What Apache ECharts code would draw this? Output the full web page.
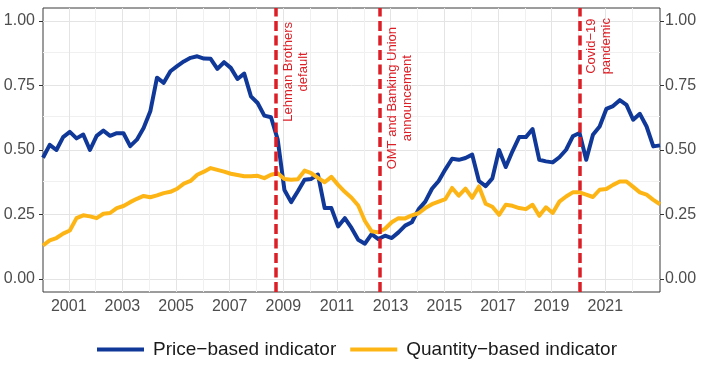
<!DOCTYPE html>
<html><head><meta charset="utf-8">
<script src="https://cdn.jsdelivr.net/npm/echarts@6/dist/echarts.min.js"></script>
<style>html,body{margin:0;padding:0;background:#fff}#c{width:705px;height:365px}</style>
</head><body><div id="c"></div>
<script>
const quarters = ['2000Q1','2000Q2','2000Q3','2000Q4','2001Q1','2001Q2','2001Q3','2001Q4','2002Q1','2002Q2','2002Q3','2002Q4',
'2003Q1','2003Q2','2003Q3','2003Q4','2004Q1','2004Q2','2004Q3','2004Q4','2005Q1','2005Q2','2005Q3','2005Q4',
'2006Q1','2006Q2','2006Q3','2006Q4','2007Q1','2007Q2','2007Q3','2007Q4','2008Q1','2008Q2','2008Q3','2008Q4',
'2009Q1','2009Q2','2009Q3','2009Q4','2010Q1','2010Q2','2010Q3','2010Q4','2011Q1','2011Q2','2011Q3','2011Q4',
'2012Q1','2012Q2','2012Q3','2012Q4','2013Q1','2013Q2','2013Q3','2013Q4','2014Q1','2014Q2','2014Q3','2014Q4',
'2015Q1','2015Q2','2015Q3','2015Q4','2016Q1','2016Q2','2016Q3','2016Q4','2017Q1','2017Q2','2017Q3','2017Q4',
'2018Q1','2018Q2','2018Q3','2018Q4','2019Q1','2019Q2','2019Q3','2019Q4','2020Q1','2020Q2','2020Q3','2020Q4',
'2021Q1','2021Q2','2021Q3','2021Q4','2022Q1','2022Q2','2022Q3','2022Q4','2023Q1'];

const priceBased = [0.47,0.52,0.50,0.55,0.57,0.545,0.56,0.50,0.555,0.575,0.555,0.565,0.565,0.515,0.54,0.585,
0.65,0.78,0.76,0.805,0.825,0.843,0.857,0.863,0.854,0.853,0.814,0.84,0.818,0.775,0.796,0.708,
0.682,0.633,0.627,0.54,0.345,0.298,0.34,0.385,0.388,0.405,0.275,0.275,0.204,0.236,0.198,0.152,
0.137,0.174,0.155,0.168,0.159,0.181,0.207,0.22,0.27,0.30,0.35,0.38,0.425,0.466,0.462,0.469,
0.482,0.38,0.36,0.39,0.50,0.434,0.495,0.55,0.55,0.581,0.462,0.456,0.452,0.472,0.501,0.553,
0.566,0.462,0.559,0.591,0.659,0.67,0.693,0.675,0.617,0.64,0.591,0.514,0.518];

const quantityBased = [0.13,0.15,0.159,0.176,0.188,0.236,0.247,0.243,0.236,0.253,0.256,0.275,0.283,0.298,0.311,0.322,
0.317,0.324,0.333,0.338,0.35,0.37,0.38,0.404,0.416,0.43,0.423,0.416,0.408,0.403,0.398,0.398,
0.40,0.391,0.404,0.41,0.388,0.385,0.387,0.42,0.41,0.392,0.375,0.396,0.365,0.338,0.315,0.285,
0.225,0.185,0.181,0.195,0.22,0.236,0.235,0.247,0.255,0.275,0.29,0.30,0.31,0.353,0.323,0.35,
0.315,0.359,0.292,0.28,0.249,0.288,0.284,0.275,0.271,0.288,0.245,0.278,0.256,0.30,0.32,0.336,
0.336,0.327,0.318,0.346,0.349,0.365,0.378,0.378,0.357,0.336,0.327,0.307,0.29];

const xTickLabels = [2001,2003,2005,2007,2009,2011,2013,2015,2017,2019,2021];
const xMinorGrid = [2002,2004,2006,2008,2010,2012,2014,2016,2018,2020,2022];
const yTickLabels = [0,0.25,0.5,0.75,1.0];
const yMinorGrid = [0.125,0.375,0.625,0.875];

const eventLabels = ['Lehman Brothers\ndefault','OMT and Banking Union\nannouncement','Covid\u221219\npandemic'];
const eventDates = [2008.73, 2012.61, 2020.03];
const eventLabelInset = [14, 19, 10];

const seriesNames = ['Price\u2212based indicator','Quantity\u2212based indicator'];

function qToX(q){ const y = +q.slice(0,4), k = +q.slice(5); return y + (k-1)/4 + 0.04; }
const xs = quarters.map(qToX);

const FONT = '"Liberation Sans", Arial, sans-serif';
const RED = '#dc1f26';
const chart = echarts.init(document.getElementById('c'), null, {renderer:'canvas'});

const gridLines = []
  .concat(yTickLabels.map(v => ({yAxis:v, lineStyle:{color:'#e4e4e4', width:1, type:'solid'}})))
  .concat(yMinorGrid.map(v => ({yAxis:v, lineStyle:{color:'#f0f0f0', width:1, type:'solid'}})))
  .concat(xTickLabels.map(v => ({xAxis:v, lineStyle:{color:'#e4e4e4', width:1, type:'solid'}})))
  .concat(xMinorGrid.map(v => ({xAxis:v, lineStyle:{color:'#f0f0f0', width:1, type:'solid'}})));

const eventLines = eventDates.map((d,i) => ({
  xAxis: d,
  label: {distance:[eventLabelInset[i],5], formatter: eventLabels[i].split('\n').map(s => '{a|' + s + '}').join('\n')}
}));

const option = {
  animation: false,
  backgroundColor: '#fff',
  grid: {left:43, right:45, top:8, bottom:73, show:true, borderColor:'#3a3a3a', borderWidth:1, backgroundColor:'transparent'},
  legend: {
    data: seriesNames, top: 335, left: 92, icon: 'rect', itemWidth: 47, itemHeight: 4, itemGap: 14,
    textStyle: {fontFamily: FONT, fontSize: 19, color: '#1a1a1a', padding:[0,0,0,4]}
  },
  xAxis: {
    type:'value', min: xs[0], max: xs[xs.length-1],
    axisLine:{show:false},
    axisTick:{show:true, customValues: xTickLabels, length:4, lineStyle:{color:'#333'}},
    axisLabel:{customValues: xTickLabels, formatter: v => String(v), fontFamily: FONT, fontSize:16, color:'#4d4d4d', margin:7},
    splitLine:{show:false}
  },
  yAxis: [
    {type:'value', min:-0.05, max:1.05, position:'left',
     axisLine:{show:false},
     axisTick:{show:true, customValues: yTickLabels, length:4, lineStyle:{color:'#333'}},
     axisLabel:{customValues: yTickLabels, formatter: v => v.toFixed(2), fontFamily: FONT, fontSize:16, color:'#4d4d4d', margin:8},
     splitLine:{show:false}},
    {type:'value', min:-0.05, max:1.05, position:'right',
     axisLine:{show:false},
     axisTick:{show:true, customValues: yTickLabels, length:4, lineStyle:{color:'#333'}},
     axisLabel:{customValues: yTickLabels, formatter: v => v.toFixed(2), fontFamily: FONT, fontSize:16, color:'#4d4d4d', margin:5},
     splitLine:{show:false}}
  ],
  series: [
    {name:'grid', type:'line', data:[], silent:true, z:0,
     markLine:{silent:true, z:1, symbol:['none','none'], label:{show:false}, animation:false, data: gridLines}},
    {name: seriesNames[0], type:'line', data: xs.map((x,i)=>[x, priceBased[i]]), showSymbol:false, symbol:'none',
     lineStyle:{color:'#0f3898', width:4, join:'round'}, itemStyle:{color:'#0f3898'}, z:3},
    {name: seriesNames[1], type:'line', data: xs.map((x,i)=>[x, quantityBased[i]]), showSymbol:false, symbol:'none',
     lineStyle:{color:'#fdb515', width:4, join:'round'}, itemStyle:{color:'#fdb515'}, z:4},
    {name:'events', type:'line', data:[], silent:true, z:6,
     markLine:{silent:true, z:6, symbol:['none','none'], animation:false,
       lineStyle:{color:RED, width:3.5, type:[10,4.5]},
       label:{show:true, position:'insideEndBottom',
         rich:{a:{align:'center', color:RED, fontFamily:FONT, fontSize:13, lineHeight:15}}},
       data: eventLines}}
  ]
};
chart.setOption(option);
</script></body></html>
